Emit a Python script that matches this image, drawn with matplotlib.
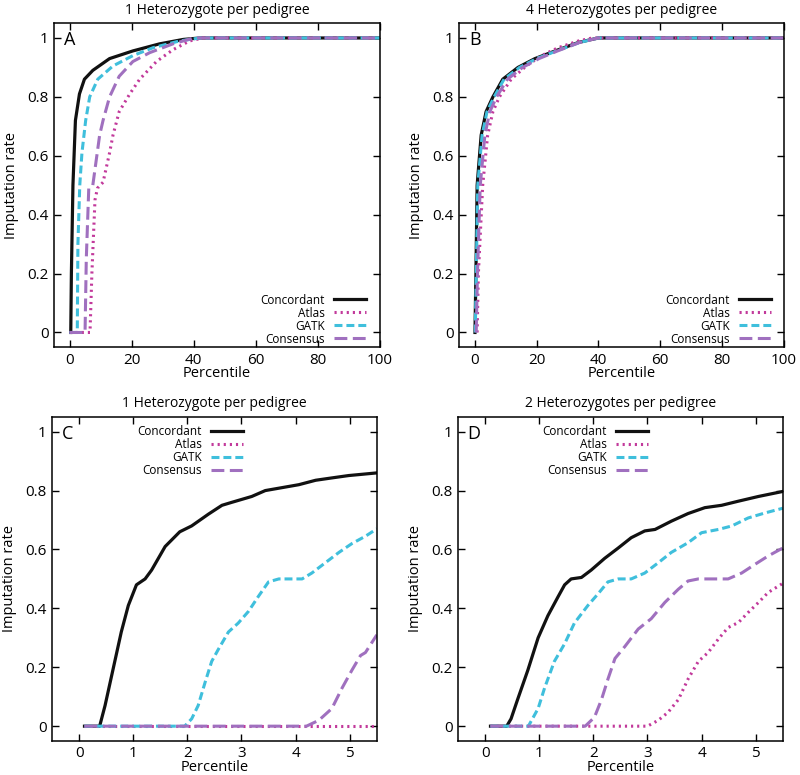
import matplotlib
matplotlib.use('Agg')
import matplotlib.pyplot as plt

plt.rcParams['font.family'] = ['Open Sans', 'DejaVu Sans']

# series names and styles
names = ['Concordant', 'Atlas', 'GATK', 'Consensus']
colores = ['#111111', '#c2399b', '#3fbfdc', '#a070bf']
estilos = ['-', (0, (0.7, 1.3)), (0, (2.6, 1.3)), (0, (4.2, 1.8))]
anchos = [2.3, 2.2, 2.2, 2.2]

# Panel A: 1 heterozygote per pedigree (full range)
conc_a_x = [0.4, 0.6, 1.1, 1.9, 3.2, 4.8, 7.5, 12.9, 20.4, 29, 36.6, 42, 100]
conc_a_y = [0, 0.2, 0.5, 0.72, 0.81, 0.86, 0.89, 0.93, 0.956, 0.98, 0.995, 1.0, 1.0]
atlas_a_x = [0, 6.6, 7.2, 8.2, 9.0, 10.8, 12.9, 14, 16, 19.4, 22.6, 28, 33.3, 38.7, 43, 100]
atlas_a_y = [0, 0, 0.2, 0.45, 0.49, 0.51, 0.61, 0.67, 0.75, 0.81, 0.86, 0.92, 0.96, 0.99, 1.0, 1.0]
gatk_a_x = [0, 2.5, 2.7, 3.3, 4.0, 5.2, 6.5, 9.1, 14, 20.4, 26.9, 35.5, 42, 100]
gatk_a_y = [0, 0, 0.3, 0.5, 0.61, 0.72, 0.8, 0.86, 0.905, 0.94, 0.967, 0.99, 1.0, 1.0]
cons_a_x = [0, 5.0, 5.4, 6.2, 7.5, 9.7, 10.8, 12.9, 16, 20.4, 25.8, 33.3, 40, 100]
cons_a_y = [0, 0, 0.25, 0.49, 0.5, 0.67, 0.72, 0.8, 0.87, 0.92, 0.95, 0.98, 1.0, 1.0]

# Panel B: 4 heterozygotes per pedigree
conc_b_x = [0.1, 0.4, 0.8, 2.1, 3.7, 5.9, 9.1, 14, 19.5, 26, 33.6, 40, 100]
conc_b_y = [0, 0.2, 0.5, 0.67, 0.75, 0.8, 0.86, 0.9, 0.93, 0.956, 0.985, 1.0, 1.0]
atlas_b_x = [0.8, 1.2, 2.6, 4.2, 5.9, 8, 11.8, 16.7, 21.6, 27, 33.6, 38, 100]
atlas_b_y = [0, 0.2, 0.5, 0.67, 0.75, 0.8, 0.86, 0.905, 0.94, 0.967, 0.99, 1.0, 1.0]
gatk_b_x = [0.2, 0.5, 1.0, 2.4, 4.0, 6.3, 9.5, 14.5, 20, 26.5, 34, 40, 100]
gatk_b_y = [0, 0.2, 0.5, 0.67, 0.75, 0.8, 0.86, 0.9, 0.93, 0.956, 0.985, 1.0, 1.0]
cons_b_x = [0.5, 0.9, 1.8, 3.3, 4.9, 7.1, 10.6, 15.5, 20.8, 26.8, 34, 40, 100]
cons_b_y = [0, 0.2, 0.5, 0.67, 0.75, 0.8, 0.86, 0.9, 0.93, 0.956, 0.985, 1.0, 1.0]

# Panel C: 1 heterozygote, zoom on first percentiles
conc_c_x = [0.1, 0.38, 0.48, 0.66, 0.78, 0.91, 1.06, 1.22, 1.34, 1.59, 1.86, 2.08, 2.39, 2.64, 2.82,
            3.19, 3.44, 3.75, 4.06, 4.37, 4.67, 4.98, 5.5]
conc_c_y = [0, 0, 0.07, 0.22, 0.32, 0.41, 0.48, 0.5, 0.53, 0.61, 0.66, 0.68, 0.72, 0.75, 0.76,
            0.78, 0.80, 0.81, 0.82, 0.835, 0.843, 0.851, 0.86]
atlas_c_x = [0.1, 5.5]
atlas_c_y = [0, 0]
gatk_c_x = [0.1, 1.95, 2.08, 2.2, 2.33, 2.45, 2.57, 2.76, 2.94, 3.13, 3.31, 3.5, 3.69, 4.12, 4.3,
            4.55, 4.8, 5.04, 5.29, 5.5]
gatk_c_y = [0, 0, 0.025, 0.07, 0.15, 0.22, 0.26, 0.32, 0.35, 0.39, 0.44, 0.49, 0.5, 0.5, 0.52,
            0.555, 0.59, 0.62, 0.645, 0.67]
cons_c_x = [0.1, 4.2, 4.43, 4.67, 4.86, 5.04, 5.2, 5.29, 5.5]
cons_c_y = [0, 0, 0.02, 0.06, 0.13, 0.19, 0.24, 0.25, 0.31]

# Panel D: 2 heterozygotes, zoom on first percentiles
conc_d_x = [0.1, 0.4, 0.48, 0.6, 0.79, 0.98, 1.16, 1.35, 1.47, 1.59, 1.78, 1.96, 2.21, 2.46, 2.7,
            2.95, 3.14, 3.44, 3.75, 4.06, 4.37, 4.68, 5.05, 5.5]
conc_d_y = [0, 0, 0.025, 0.09, 0.19, 0.3, 0.375, 0.44, 0.48, 0.5, 0.505, 0.53, 0.57, 0.605, 0.64,
            0.663, 0.668, 0.696, 0.722, 0.742, 0.75, 0.764, 0.78, 0.797]
atlas_d_x = [0.1, 3.0, 3.2, 3.38, 3.57, 3.75, 3.94, 4.12, 4.31, 4.49, 4.68, 4.86, 5.05, 5.23, 5.5]
atlas_d_y = [0, 0, 0.02, 0.047, 0.09, 0.16, 0.22, 0.25, 0.296, 0.335, 0.352, 0.386, 0.42, 0.454, 0.485]
gatk_d_x = [0.1, 0.8, 0.98, 1.1, 1.28, 1.47, 1.65, 1.9, 2.09, 2.27, 2.46, 2.7, 2.95, 3.2, 3.44,
            3.75, 4.0, 4.31, 4.56, 4.86, 5.17, 5.5]
gatk_d_y = [0, 0, 0.06, 0.13, 0.22, 0.28, 0.35, 0.41, 0.45, 0.49, 0.5, 0.5, 0.52, 0.555, 0.59,
            0.623, 0.657, 0.668, 0.68, 0.707, 0.724, 0.74]
cons_d_x = [0.1, 1.85, 2.02, 2.15, 2.27, 2.4, 2.58, 2.83, 3.07, 3.32, 3.57, 3.75, 3.94, 4.49,
            4.74, 4.99, 5.23, 5.5]
cons_d_y = [0, 0, 0.03, 0.09, 0.16, 0.23, 0.27, 0.33, 0.365, 0.42, 0.465, 0.493, 0.5, 0.5,
            0.52, 0.55, 0.578, 0.605]

titulos = ['1 Heterozygote per pedigree', '4 Heterozygotes per pedigree',
           '1 Heterozygote per pedigree', '2 Heterozygotes per pedigree']
letras = ['A', 'B', 'C', 'D']
ticks_full = [0, 20, 40, 60, 80, 100]
ticks_zoom = [0, 1, 2, 3, 4, 5]
yticks = [0, 0.2, 0.4, 0.6, 0.8, 1]
ylabels = ['0', '0.2', '0.4', '0.6', '0.8', '1']

paneles = [
    [(conc_a_x, conc_a_y), (atlas_a_x, atlas_a_y), (gatk_a_x, gatk_a_y), (cons_a_x, cons_a_y)],
    [(conc_b_x, conc_b_y), (atlas_b_x, atlas_b_y), (gatk_b_x, gatk_b_y), (cons_b_x, cons_b_y)],
    [(conc_c_x, conc_c_y), (atlas_c_x, atlas_c_y), (gatk_c_x, gatk_c_y), (cons_c_x, cons_c_y)],
    [(conc_d_x, conc_d_y), (atlas_d_x, atlas_d_y), (gatk_d_x, gatk_d_y), (cons_d_x, cons_d_y)],
]

posiciones = [
    [0.0675, 0.552, 0.4075, 0.418],
    [0.574, 0.552, 0.406, 0.418],
    [0.065, 0.044, 0.406, 0.418],
    [0.5725, 0.044, 0.406, 0.418],
]
# legend corner (axes fraction)
leyendas = [('lower right', (0.957, 0.005)), ('lower right', (0.96, 0.005)),
            ('upper right', (0.588, 0.975)), ('upper right', (0.585, 0.975))]

fig = plt.figure(figsize=(8, 7.75), dpi=100)

for i in range(4):
    ax = fig.add_axes(posiciones[i])
    for j in range(4):
        xs, ys = paneles[i][j]
        ax.plot(xs, ys, color=colores[j], linestyle=estilos[j], lw=anchos[j], label=names[j],
                dash_capstyle='butt')
    if i < 2:
        ax.set_xlim(-5, 100)
        ax.set_xticks(ticks_full)
    else:
        ax.set_xlim(-0.5, 5.5)
        ax.set_xticks(ticks_zoom)
    ax.set_ylim(-0.05, 1.05)
    ax.set_yticks(yticks)
    ax.set_yticklabels(ylabels)
    ax.tick_params(direction='in', top=True, right=True, length=5, width=1,
                   labelsize=11, pad=4)
    for s in ax.spines.values():
        s.set_linewidth(1.1)
    ax.set_title(titulos[i], fontsize=10, pad=7)
    ax.set_xlabel('Percentile', fontsize=10.5, labelpad=-1)
    ax.set_ylabel('Imputation rate', fontsize=10.5, labelpad=6)
    ax.text(0.03, 0.975, letras[i], transform=ax.transAxes, fontsize=13, va='top', ha='left')
    leg = ax.legend(loc=leyendas[i][0], bbox_to_anchor=leyendas[i][1], frameon=False,
                    markerfirst=False, fontsize=8.5, labelspacing=0.0, handlelength=2.7,
                    handletextpad=0.8, borderpad=0, borderaxespad=0)
    for t in leg.get_texts():
        t.set_ha('right')

fig.savefig('out.png', dpi=100)
